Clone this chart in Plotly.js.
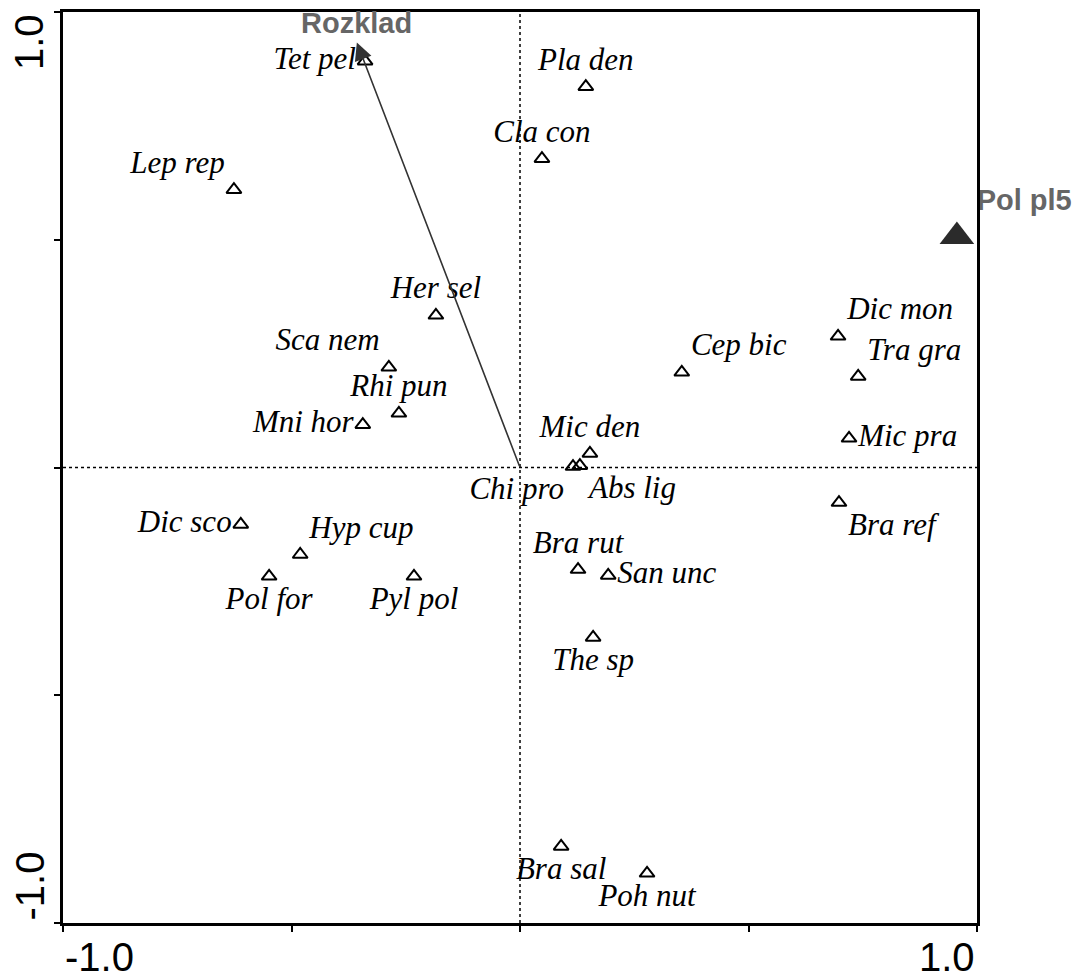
<!DOCTYPE html>
<html>
<head>
<meta charset="utf-8">
<script src="https://cdn.plot.ly/plotly-3.0.1.min.js"></script>
<style>html,body{margin:0;padding:0;background:#fff;}#plot{width:1084px;height:979px;}</style>
</head>
<body>
<div id="plot"></div>
<script>
// ---- data ----
var species = ['Tet pel','Pla den','Cla con','Lep rep','Her sel','Sca nem','Rhi pun','Mni hor','Cep bic','Dic mon','Tra gra','Mic pra','Mic den','Chi pro','Abs lig','Bra ref','Dic sco','Hyp cup','Pol for','Pyl pol','Bra rut','San unc','The sp','Bra sal','Poh nut'];
var speciesX = [-0.339,0.144,0.048,-0.626,-0.184,-0.287,-0.265,-0.344,0.354,0.696,0.740,0.720,0.153,0.116,0.131,0.698,-0.611,-0.481,-0.549,-0.232,0.127,0.193,0.160,0.090,0.278];
var speciesY = [0.892,0.836,0.678,0.610,0.334,0.220,0.119,0.094,0.209,0.288,0.200,0.064,0.031,0.002,0.004,-0.077,-0.125,-0.191,-0.239,-0.239,-0.224,-0.237,-0.373,-0.832,-0.891];

var sampleNames = ['Pol pl5'];
var sampleX = [0.956];
var sampleY = [0.507];

var envNames = ['Rozklad'];
var envX = [-0.357];
var envY = [0.933];

var tickValues = [-1, -0.5, 0, 0.5, 1];
var tickLabelValues = [-1, 1];
var tickLabels = ['-1.0', '1.0'];

// ---- label placement (style) ----
var labelPos = ['middle left','top center','top center','top left','top center','top left','top center','middle left','top right','top right','top right','middle right','top center','bottom left','bottom right','bottom right','middle left','top right','bottom center','bottom center','top center','middle right','bottom center','bottom center','bottom center'];

var serif = {family: 'Liberation Serif, Times New Roman, serif', size: 31, color: '#000', style: 'italic'};

var traces = [
  {
    type: 'scatter', mode: 'markers+text',
    x: speciesX, y: speciesY, text: species,
    textposition: labelPos,
    textfont: serif,
    marker: {symbol: 'triangle-up-open', size: 13, color: '#000', line: {width: 2, color: '#000'}},
    cliponaxis: false, hoverinfo: 'text', showlegend: false
  },
  {
    type: 'scatter', mode: 'markers+text',
    x: sampleX, y: sampleY, text: sampleNames,
    textposition: 'top right',
    textfont: {family: 'Liberation Sans, Arial, sans-serif', size: 29, color: '#666', weight: 'bold'},
    marker: {symbol: 'triangle-up', size: 30, color: '#2b2b2b'},
    cliponaxis: false, showlegend: false
  }
];

var annotations = [];
for (var i = 0; i < envNames.length; i++) {
  annotations.push({
    x: envX[i], y: envY[i], xref: 'x', yref: 'y',
    ax: 0, ay: 0, axref: 'x', ayref: 'y',
    text: '', showarrow: true, arrowhead: 2, arrowsize: 2.2, arrowwidth: 1.6, arrowcolor: '#333'
  });
  annotations.push({
    x: envX[i], y: envY[i], xref: 'x', yref: 'y',
    text: envNames[i], showarrow: false, yanchor: 'bottom', yshift: 2,
    font: {family: 'Liberation Sans, Arial, sans-serif', size: 29, color: '#666', weight: 'bold'}
  });
}
// tick labels
for (var j = 0; j < tickLabelValues.length; j++) {
  var v = tickLabelValues[j];
  annotations.push({
    x: v, y: 0, xref: 'x', yref: 'paper', yanchor: 'top', yshift: -10,
    xanchor: v < 0 ? 'left' : 'right',
    text: tickLabels[j], showarrow: false,
    font: {family: 'Liberation Sans, Arial, sans-serif', size: 40, color: '#000'}
  });
  annotations.push({
    x: 0, y: v, xref: 'paper', yref: 'y', xanchor: 'right', xshift: -10,
    yanchor: v < 0 ? 'bottom' : 'top',
    textangle: -90,
    text: tickLabels[j], showarrow: false,
    font: {family: 'Liberation Sans, Arial, sans-serif', size: 40, color: '#000'}
  });
}

var layout = {
  width: 1084, height: 979,
  margin: {l: 63, r: 107, t: 12, b: 56, pad: 0},
  paper_bgcolor: '#fff', plot_bgcolor: '#fff',
  xaxis: {
    range: [-1, 1], showgrid: false, zeroline: false,
    showline: true, linecolor: '#000', linewidth: 3, mirror: true,
    ticks: 'outside', ticklen: 6, tickwidth: 2, tickcolor: '#000',
    tickmode: 'array', tickvals: tickValues, showticklabels: false
  },
  yaxis: {
    range: [-1, 1], showgrid: false, zeroline: false,
    showline: true, linecolor: '#000', linewidth: 3, mirror: true,
    ticks: 'outside', ticklen: 6, tickwidth: 2, tickcolor: '#000',
    tickmode: 'array', tickvals: tickValues, showticklabels: false
  },
  shapes: [
    {type: 'line', xref: 'x', yref: 'paper', x0: 0, x1: 0, y0: 0, y1: 1, line: {color: '#000', width: 1.5, dash: 'dot'}, layer: 'below'},
    {type: 'line', xref: 'paper', yref: 'y', x0: 0, x1: 1, y0: 0, y1: 0, line: {color: '#000', width: 1.5, dash: 'dot'}, layer: 'below'}
  ],
  annotations: annotations,
  showlegend: false
};

Plotly.newPlot('plot', traces, layout, {displayModeBar: false, staticPlot: true});
</script>
</body>
</html>
